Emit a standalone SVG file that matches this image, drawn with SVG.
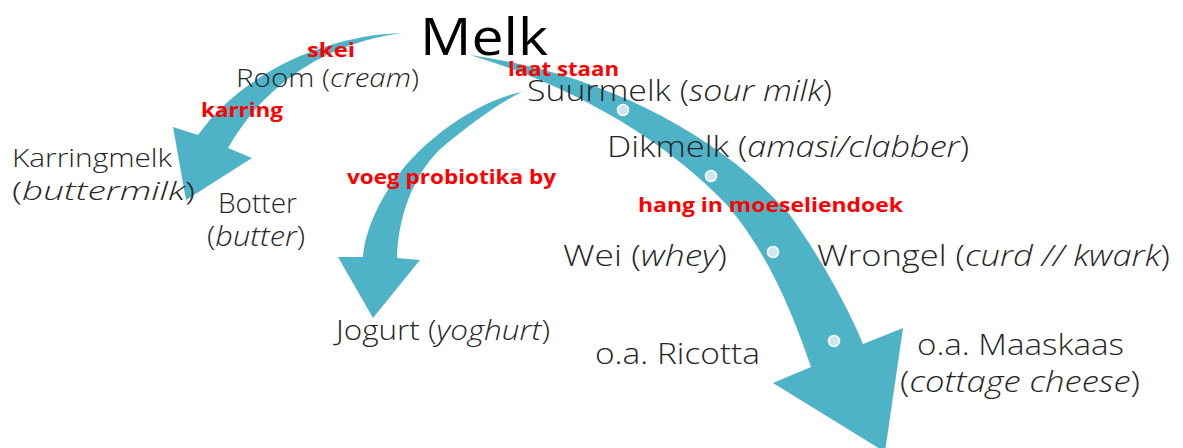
<svg xmlns="http://www.w3.org/2000/svg" width="1183" height="448" viewBox="0 0 1183 448">
<style>
.t{font-family:"Open Sans","Lato","Liberation Sans",sans-serif;font-weight:300;fill:#262626}
.i{font-style:italic}
.r{font-family:"Open Sans","Lato","Liberation Sans",sans-serif;font-weight:700;fill:#ff0000;font-size:19px}
.arr{fill:#4fb3c8}
.dot{fill:#cfe6ee;stroke:#ffffff;stroke-width:1.5}
</style>
<rect width="1183" height="448" fill="#ffffff"/>
<g id="connectors">
  <path class="arr" d="M402,33 C330,35 245,70 198,135 L173,127 L186,200 L252,158 L228,148 C255,100 310,45 402,33 Z"/>
  <path class="arr" d="M522,92 C480,100 430,135 402,170 C380,198 365,230 363,257 L338,257 L373,318 L420,260 L397,258 C398,215 415,170 445,145 C470,125 495,105 522,92 Z"/>
  <path class="arr" d="M470,55 C590,72 710,125 790,215 C815,250 845,300 863,344 L903,328 L885,452 L773,383 L811,367 C795,320 770,255 727,205 C670,145 580,88 470,55 Z"/>
  <circle class="dot" cx="623" cy="110" r="5.5"/>
  <circle class="dot" cx="711" cy="176" r="5.5"/>
  <circle class="dot" cx="773" cy="252" r="5.5"/>
  <circle class="dot" cx="834" cy="341" r="5.5"/>
</g>
<g id="melk"><text class="t" x="420" y="55" font-size="52" font-weight="400" textLength="128" lengthAdjust="spacingAndGlyphs" style="font-weight:400;fill:#000">Melk</text></g>
<g id="room"><text class="t" x="236" y="87" font-size="26" textLength="183" lengthAdjust="spacingAndGlyphs">Room (<tspan class="i">cream</tspan>)</text></g>
<g id="suurmelk"><text class="t" x="527" y="101" font-size="30" textLength="305" lengthAdjust="spacingAndGlyphs">Suurmelk (<tspan class="i">sour milk</tspan>)</text></g>
<g id="dikmelk"><text class="t" x="607" y="157" font-size="30" textLength="362" lengthAdjust="spacingAndGlyphs">Dikmelk (<tspan class="i">amasi/clabber</tspan>)</text></g>
<g id="wei"><text class="t" x="563" y="266" font-size="30" textLength="164" lengthAdjust="spacingAndGlyphs">Wei (<tspan class="i">whey</tspan>)</text></g>
<g id="wrongel"><text class="t" x="817" y="266" font-size="30" textLength="353" lengthAdjust="spacingAndGlyphs">Wrongel (<tspan class="i">curd // kwark</tspan>)</text></g>
<g id="ricotta"><text class="t" x="595" y="364" font-size="30" textLength="165" lengthAdjust="spacingAndGlyphs">o.a. Ricotta</text></g>
<g id="maaskaas">
  <text class="t" x="917" y="355" font-size="30" textLength="207" lengthAdjust="spacingAndGlyphs">o.a. Maaskaas</text>
  <text class="t" x="900" y="392" font-size="30" textLength="240" lengthAdjust="spacingAndGlyphs">(<tspan class="i">cottage cheese</tspan>)</text>
</g>
<g id="jogurt"><text class="t" x="336" y="340" font-size="27" textLength="214" lengthAdjust="spacingAndGlyphs">Jogurt (<tspan class="i">yoghurt</tspan>)</text></g>
<g id="karringmelk">
  <text class="t" x="12" y="167" font-size="26" textLength="160" lengthAdjust="spacingAndGlyphs">Karringmelk</text>
  <text class="t" x="12" y="200" font-size="26" textLength="183" lengthAdjust="spacingAndGlyphs">(<tspan class="i">buttermilk</tspan>)</text>
</g>
<g id="botter">
  <text class="t" x="218" y="213" font-size="27" textLength="79" lengthAdjust="spacingAndGlyphs">Botter</text>
  <text class="t" x="207" y="246" font-size="27" textLength="98" lengthAdjust="spacingAndGlyphs">(<tspan class="i">butter</tspan>)</text>
</g>
<g id="lbl-skei"><text class="r" x="307" y="57" textLength="48" lengthAdjust="spacingAndGlyphs">skei</text></g>
<g id="lbl-laat"><text class="r" x="508" y="76" textLength="111" lengthAdjust="spacingAndGlyphs">laat staan</text></g>
<g id="lbl-karring"><text class="r" x="201" y="117" textLength="82" lengthAdjust="spacingAndGlyphs">karring</text></g>
<g id="lbl-voeg"><text class="r" x="347" y="184" textLength="209" lengthAdjust="spacingAndGlyphs">voeg probiotika by</text></g>
<g id="lbl-hang"><text class="r" x="638" y="212" textLength="265" lengthAdjust="spacingAndGlyphs">hang in moeseliendoek</text></g>
</svg>
